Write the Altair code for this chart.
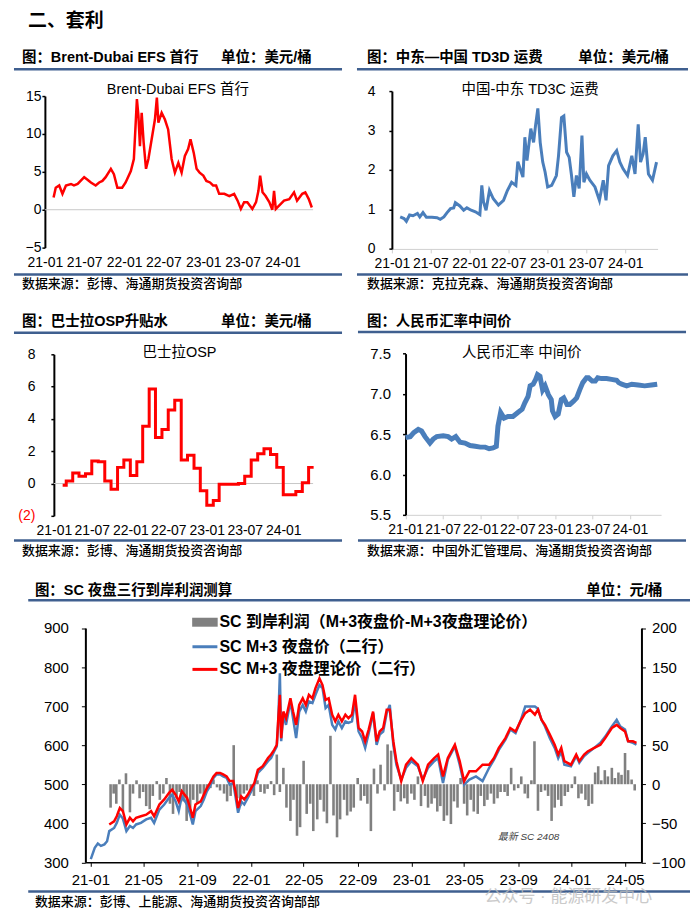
import altair as alt
import pandas as pd

FONT = "Liberation Sans, Noto Sans CJK SC"
NUM_FONT = "Liberation Sans"
RED = "#FF0000"
BLUE = "#4A7EBB"
GRAY = "#808080"
RULE_BLUE = "#3F5F8F"

# ---------------- data ----------------
efs_dates = ["2021-02-10","2021-02-20","2021-03-08","2021-03-23","2021-04-08","2021-05-01","2021-05-15","2021-06-01",
             "2021-07-01","2021-07-15","2021-08-01","2021-08-23","2021-09-08","2021-09-23","2021-10-08","2021-11-01",
             "2021-11-15","2021-12-01","2021-12-23","2022-01-08","2022-02-01","2022-02-15","2022-03-01","2022-03-08",
             "2022-03-15","2022-03-23","2022-04-01","2022-04-12","2022-04-23","2022-05-08","2022-05-23","2022-06-01",
             "2022-06-08","2022-06-23","2022-07-08","2022-07-23","2022-08-08","2022-08-23","2022-09-08","2022-09-23",
             "2022-10-08","2022-10-23","2022-11-03","2022-11-18","2022-12-01","2022-12-15","2023-01-01","2023-01-15",
             "2023-02-01","2023-02-15","2023-03-01","2023-03-15","2023-04-08","2023-05-01","2023-05-23","2023-06-08",
             "2023-06-23","2023-07-08","2023-07-23","2023-08-15","2023-09-01","2023-09-12","2023-09-20","2023-10-01",
             "2023-10-15","2023-11-01","2023-11-15","2023-11-23","2023-12-01","2023-12-15","2024-01-08","2024-02-01",
             "2024-02-23","2024-03-08","2024-04-01","2024-04-15","2024-05-01","2024-05-15"]
efs_values = [1.6,2.9,3.2,2.1,3.2,3.4,3.2,3.4,4.3,4.0,3.6,3.2,3.6,3.8,4.3,5.4,4.7,2.9,2.9,3.6,5.1,6.7,14.6,12.4,
              8.4,12.8,8.9,5.4,6.7,9.3,11.9,14.8,11.5,12.8,11.9,10.6,6.7,4.9,6.2,4.9,7.1,8.0,9.3,7.5,5.4,4.9,4.5,3.8,
              3.6,3.2,3.2,2.1,2.1,1.8,2.1,1.2,0.1,1.0,1.0,0.1,1.0,2.5,4.5,2.3,1.8,1.0,0.0,2.5,0.1,0.5,1.2,1.4,
              2.3,1.2,2.1,2.3,1.4,0.3]

td3c_dates = ["2021-02-09","2021-02-27","2021-03-10","2021-03-25","2021-04-10","2021-05-01","2021-05-12","2021-05-27",
              "2021-06-12","2021-07-08","2021-08-01","2021-08-16","2021-09-02","2021-09-17","2021-10-03","2021-10-18",
              "2021-10-26","2021-11-16","2021-12-04","2021-12-19","2022-01-08","2022-01-28","2022-02-18","2022-02-27",
              "2022-03-07","2022-03-19","2022-04-04","2022-04-22","2022-05-16","2022-06-09","2022-06-27","2022-07-17",
              "2022-08-06","2022-08-15","2022-08-26","2022-09-08","2022-09-17","2022-09-27","2022-10-15","2022-10-28",
              "2022-11-06","2022-11-17","2022-11-28","2022-12-10","2022-12-21","2023-01-02","2023-01-21","2023-02-12",
              "2023-02-22","2023-03-08","2023-03-19","2023-04-01","2023-04-13","2023-04-24","2023-05-05","2023-05-17",
              "2023-05-30","2023-06-12","2023-06-21","2023-07-03","2023-07-19","2023-08-12","2023-09-02","2023-09-20",
              "2023-10-03","2023-10-15","2023-11-04","2023-11-22","2023-12-07","2023-12-22","2024-01-12","2024-02-01",
              "2024-02-16","2024-03-02","2024-03-13","2024-03-25","2024-04-04","2024-04-19","2024-05-08","2024-05-27"]
td3c_values = [0.81,0.77,0.70,0.86,0.84,0.90,0.81,0.92,0.80,0.80,0.79,0.75,0.81,0.92,1.02,1.04,1.17,1.09,0.98,1.04,
               0.98,0.94,0.87,1.61,1.19,0.98,1.48,1.27,1.11,1.23,1.48,1.69,1.61,2.21,2.03,1.82,2.83,2.24,3.05,2.70,
               3.12,3.56,2.70,2.20,1.95,1.57,1.61,1.86,2.36,3.33,3.37,2.45,2.32,1.86,1.32,1.86,1.53,2.87,1.69,1.90,
               1.74,1.57,1.23,1.74,1.23,2.11,2.36,2.49,2.20,2.03,1.86,2.36,1.90,3.16,2.20,2.41,2.83,1.90,1.74,2.20]

osp_dates = ["2021-02-12","2021-03-01","2021-04-01","2021-05-01","2021-06-01","2021-07-01","2021-08-01","2021-09-01",
             "2021-10-01","2021-11-01","2021-12-01","2022-01-01","2022-02-01","2022-03-01","2022-04-01","2022-05-01",
             "2022-06-01","2022-07-01","2022-08-01","2022-09-01","2022-10-01","2022-11-01","2022-12-01","2023-01-01",
             "2023-02-01","2023-03-01","2023-04-01","2023-05-01","2023-06-01","2023-07-01","2023-08-01","2023-09-01",
             "2023-10-01","2023-11-01","2023-12-01","2024-01-01","2024-02-01","2024-03-01","2024-04-01","2024-05-01",
             "2024-05-25"]
osp_values = [-0.1,0.15,0.65,0.45,0.6,1.4,1.35,0.15,-0.35,1.0,1.45,0.5,1.35,3.55,5.85,2.85,3.35,4.55,5.15,1.45,
              1.75,0.95,-0.45,-1.35,-1.05,-0.05,-0.05,-0.05,0.0,0.45,1.45,1.85,2.15,1.8,1.0,-0.7,-0.7,-0.5,0.05,1.0,1.0]

cny_dates = ["2021-01-01","2021-01-24","2021-02-10","2021-03-04","2021-03-20","2021-04-06","2021-04-30","2021-05-16",
             "2021-06-02","2021-07-04","2021-07-28","2021-08-14","2021-09-03","2021-09-24","2021-10-18","2021-11-12",
             "2021-12-07","2022-01-01","2022-01-25","2022-02-13","2022-03-04","2022-03-20","2022-03-28","2022-04-10",
             "2022-04-27","2022-05-16","2022-06-09","2022-07-03","2022-07-24","2022-08-06","2022-08-22","2022-09-01",
             "2022-09-16","2022-09-28","2022-10-07","2022-10-19","2022-11-01","2022-11-13","2022-11-29","2022-12-13",
             "2022-12-19","2023-01-01","2023-01-16","2023-01-31","2023-02-12","2023-02-28","2023-03-14","2023-04-01",
             "2023-04-16","2023-05-01","2023-05-16","2023-06-03","2023-06-13","2023-07-01","2023-07-16","2023-07-28",
             "2023-08-15","2023-09-09","2023-10-03","2023-10-28","2023-11-07","2023-11-22","2023-12-16","2024-01-10",
             "2024-02-10","2024-03-13","2024-04-15","2024-05-13"]
cny_values = [6.46,6.47,6.52,6.56,6.54,6.47,6.39,6.44,6.47,6.48,6.47,6.44,6.47,6.40,6.39,6.36,6.35,6.34,6.34,6.32,
              6.33,6.35,6.60,6.77,6.70,6.72,6.72,6.77,6.81,6.89,6.97,7.10,7.12,7.18,7.24,7.22,7.05,7.10,6.99,6.93,
              6.79,6.72,6.75,6.93,6.95,6.87,6.87,6.91,6.95,7.05,7.14,7.20,7.20,7.16,7.16,7.20,7.19,7.19,7.18,7.17,
              7.14,7.12,7.10,7.12,7.11,7.10,7.11,7.12]

sc_dates = ["2021-01-02","2021-01-11","2021-01-18","2021-01-25","2021-02-02","2021-02-08","2021-02-13","2021-02-24",
            "2021-03-02","2021-03-09","2021-03-16","2021-03-24","2021-04-01","2021-04-08","2021-04-15","2021-04-26",
            "2021-05-08","2021-05-19","2021-05-26","2021-06-07","2021-06-18","2021-06-29","2021-07-06","2021-07-14",
            "2021-07-21","2021-07-28","2021-08-09","2021-08-16","2021-08-22","2021-08-28","2021-09-09","2021-09-16",
            "2021-09-23","2021-09-30","2021-10-08","2021-10-15","2021-10-23","2021-10-30","2021-11-07","2021-11-14",
            "2021-11-22","2021-11-27","2021-12-03","2021-12-10","2021-12-17","2021-12-25","2022-01-02","2022-01-09",
            "2022-01-17","2022-01-28","2022-02-09","2022-02-16","2022-02-23","2022-03-01","2022-03-04","2022-03-08",
            "2022-03-11","2022-03-16","2022-03-22","2022-04-01","2022-04-07","2022-04-14","2022-04-21","2022-04-29",
            "2022-05-06","2022-05-13","2022-05-21","2022-05-28","2022-06-06","2022-06-13","2022-06-20","2022-06-27",
            "2022-07-05","2022-07-12","2022-07-19","2022-07-27","2022-08-04","2022-08-11","2022-08-19","2022-08-26",
            "2022-09-03","2022-09-11","2022-09-18","2022-09-26","2022-10-06","2022-10-14","2022-10-21","2022-10-29",
            "2022-11-06","2022-11-13","2022-11-21","2022-11-28","2022-12-09","2022-12-20","2023-01-01","2023-01-16",
            "2023-01-27","2023-02-08","2023-02-22","2023-03-03","2023-03-14","2023-03-25","2023-04-10","2023-04-21",
            "2023-05-01","2023-05-13","2023-05-28","2023-06-12","2023-06-27","2023-07-08","2023-07-19","2023-08-03",
            "2023-08-14","2023-08-26","2023-09-06","2023-09-17","2023-09-28","2023-10-09","2023-10-16","2023-10-24",
            "2023-11-01","2023-11-12","2023-11-23","2023-12-01","2023-12-08","2023-12-15","2023-12-30","2024-01-11",
            "2024-01-18","2024-01-29","2024-02-06","2024-02-21","2024-03-06","2024-03-17","2024-04-01","2024-04-12",
            "2024-04-20","2024-05-01","2024-05-08","2024-05-19","2024-05-27"]
sc_night = [308,337,348,342,346,354,380,388,401,422,412,380,393,388,397,401,410,414,401,435,448,465,473,456,
            431,469,448,422,397,431,444,461,482,495,516,525,525,520,516,499,503,469,427,456,448,465,482,499,
            529,542,559,567,584,597,652,784,610,678,652,712,669,618,686,703,686,712,708,729,754,746,695,703,
            652,640,661,644,661,657,661,712,635,618,593,630,682,601,627,635,682,703,601,550,512,542,559,546,
            512,542,559,567,503,563,597,550,499,512,520,508,542,563,588,614,640,631,661,699,699,699,693,665,
            648,618,593,567,584,550,546,572,555,572,580,593,606,622,648,665,648,640,610,606,601]
sc_theory = [None,None,None,None,None,None,397,405,418,439,431,397,414,405,414,418,422,431,418,448,461,478,486,473,
             456,482,465,439,414,448,456,473,490,503,520,529,529,525,520,508,508,482,439,469,461,473,490,503,
             537,546,567,576,588,601,661,729,618,686,669,720,686,652,703,720,703,729,720,746,771,754,716,720,
             678,661,678,661,678,669,678,729,644,635,610,640,686,610,635,644,691,691,610,559,508,550,567,550,
             508,550,567,576,520,567,601,559,508,533,533,550,550,567,593,618,644,635,661,682,691,678,691,665,
             652,627,601,576,593,559,550,576,559,576,584,593,601,618,644,652,644,635,610,610,606]

profit_months = ["2021-02","2021-03","2021-04","2021-05","2021-06","2021-07","2021-08","2021-09","2021-10","2021-11",
                 "2021-12","2022-01","2022-02","2022-03","2022-04","2022-05","2022-06","2022-07","2022-08","2022-09",
                 "2022-10","2022-11","2022-12","2023-01","2023-02","2023-03","2023-04","2023-05","2023-06","2023-07",
                 "2023-08","2023-09","2023-10","2023-11","2023-12","2024-01","2024-02","2024-03","2024-04","2024-05"]
profit_days = ["01", "08", "16", "23"]
profit_values = [None,None,-30,-12, -25,6,-35,14, -36,-12,5,-18, -10,-28,-32,-15, 4,-20,-12,8,
                 -25,-38,-18,-10, -22,-47,-30,-20, -25,-12,-18,-8, -5,6,-4,-8, -12,-22,-15,50,
                 -18,-28,-12,-8, -8,-15,5,-10, -12,-6,4,-14, 38,-10,21,-30, -47,-20,-66,-55,
                 30,-38,-25,-60, -45,-20,-35,-50, 62,-40,-68,-45, -20,-40,-35,-30, 8,-21,-15,-25,
                 -60,20,-12,25, -8,51,43,-34, -10,-22,-18,-25, -12,-20,10,-28, -15,-30,-25,-18,
                 -35,-28,-47,-40, -51,-22,-30,8, -25,-40,-20,-35, -38,-15,-28,-20, -12,-25,-18,-10,
                 -10,-15,21,-8, -5,10,-12,-18, 5,55,-34,-10, -8,-15,-47,-30, -20,-28,-15,-10,
                 -5,10,-18,-12, -20,-28,-25,15, 23,5,18,10, 21,8,15,12, 40,18,6,-8]

small_ticks = [(2021, 1), (2021, 7), (2022, 1), (2022, 7), (2023, 1), (2023, 7), (2024, 1)]
sc_ticks = [(2021, 1), (2021, 5), (2021, 9), (2022, 1), (2022, 5), (2022, 9), (2023, 1), (2023, 5),
            (2023, 9), (2024, 1), (2024, 5)]


# ---------------- helpers ----------------
def dt(y, m, d=1):
    return alt.DateTime(year=y, month=m, date=d)


ONE = pd.DataFrame({"k": [0]})


def txt(x, y, s, size=13, weight="normal", align="left", color="black", style="normal", opacity=1.0):
    return alt.Chart(ONE).mark_text(text=s, fontSize=size, fontWeight=weight, align=align, baseline="middle",
                                    color=color, font=FONT, fontStyle=style, opacity=opacity).encode(
        x=alt.value(x), y=alt.value(y))


def hrule(x1, x2, y, color=RULE_BLUE, width=2.5):
    return alt.Chart(ONE).mark_rule(color=color, strokeWidth=width).encode(
        x=alt.value(x1), x2=alt.value(x2), y=alt.value(y))


def small_x(rng, offset, domain_line, pad):
    kw = dict(values=[dt(y, m) for y, m in small_ticks], format="%y-%m", title=None, grid=False,
              labelFont=NUM_FONT, labelFontSize=14, labelColor="black", labelFlush=False,
              labelOverlap=False, offset=offset, labelPadding=pad)
    if domain_line:
        kw.update(domain=True, domainColor="#D0D0D0", domainWidth=1, ticks=True, tickColor="#D0D0D0",
                  tickSize=4)
    else:
        kw.update(domain=False, ticks=False)
    return alt.X("date:T", scale=alt.Scale(domain=[dt(2021, 1), dt(2024, 6)], range=rng), axis=alt.Axis(**kw))


def small_y(field, dom, rng, vals, offset, pad, **extra):
    ax = dict(values=vals, title=None, grid=False, offset=offset, domainColor="black", domainWidth=2,
              tickColor="black", tickSize=3, tickWidth=1.5, labelPadding=pad, labelFont=NUM_FONT,
              labelFontSize=14, labelColor="black")
    ax.update(extra)
    return alt.Y(field, scale=alt.Scale(domain=dom, range=rng), axis=alt.Axis(**ax))


HDR = 14.5
SRC = 13

# ---------------- row 0: section title ----------------
row0 = txt(20, 11.5, "二、套利", 19, "bold").properties(width=684, height=32)

# ---------------- panel 1: Brent-Dubai EFS ----------------
efs_df = pd.DataFrame({"date": efs_dates, "v": efs_values})
x1 = small_x([37, 308.4], -53, False, 8)
y1 = small_y("v:Q", [-5, 15], [207, 55], [-5, 0, 5, 10, 15], -37, 1)
p1 = alt.layer(
    alt.Chart(pd.DataFrame({"v": [0]})).mark_rule(color="#C8C8C8", strokeWidth=1).encode(
        y=y1, x=alt.value(37), x2=alt.value(306)),
    alt.Chart(efs_df).mark_line(color=RED, strokeWidth=2.5).encode(x=x1, y=y1),
    txt(14, 17, "图：Brent-Dubai EFS 首行", HDR, "bold"),
    txt(213.7, 17, "单位：美元/桶", HDR, "bold"),
    hrule(6, 335, 28),
    txt(170.3, 49.3, "Brent-Dubai EFS 首行", HDR, "normal", "center"),
    hrule(6, 335, 234),
    txt(14, 243, "数据来源：彭博、海通期货投资咨询部", SRC, 500),
).properties(width=342, height=260)

# ---------------- panel 2: TD3C ----------------
td_df = pd.DataFrame({"date": td3c_dates, "v": td3c_values})
x2 = small_x([43, 309.5], -51.7, True, 3.5)
y2 = small_y("v:Q", [0, 4], [208.3, 50], [0, 1, 2, 3, 4], -43, 14)
p2 = alt.layer(
    alt.Chart(td_df).mark_line(color=BLUE, strokeWidth=3).encode(x=x2, y=y2),
    txt(18, 17, "图：中东—中国 TD3D 运费", HDR, "bold"),
    txt(230, 17, "单位：美元/桶", HDR, "bold"),
    hrule(8, 340, 28),
    txt(181.7, 49.3, "中国-中东 TD3C 运费", HDR, "normal", "center"),
    hrule(8, 340, 234),
    txt(18, 243, "数据来源：克拉克森、海通期货投资咨询部", SRC, 500),
).properties(width=342, height=260)

# ---------------- panel 3: Basrah OSP ----------------
osp_df = pd.DataFrame({"date": osp_dates, "v": osp_values})
x3 = small_x([46, 308], -49, False, 7.5)
y3 = small_y("v:Q", [-2, 8], [216, 54], [-2, 0, 2, 4, 6, 8], -46, 16,
             labelExpr="datum.value < 0 ? '(' + (-datum.value) + ')' : datum.label",
             labelColor={"condition": {"test": "datum.value < 0", "value": "#FF0000"}, "value": "black"})
p3 = alt.layer(
    alt.Chart(pd.DataFrame({"v": [0]})).mark_rule(color="#C8C8C8", strokeWidth=1).encode(
        y=y3, x=alt.value(46), x2=alt.value(306)),
    alt.Chart(osp_df).mark_line(color=RED, strokeWidth=3, interpolate="step-after").encode(x=x3, y=y3),
    txt(14, 22, "图：巴士拉OSP升贴水", HDR, "bold"),
    txt(213.7, 22, "单位：美元/桶", HDR, "bold"),
    hrule(6, 335, 32.3),
    txt(172, 52.3, "巴士拉OSP", HDR, "normal", "center"),
    hrule(6, 335, 240.7),
    txt(14, 251.7, "数据来源：彭博、海通期货投资咨询部", SRC, 500),
).properties(width=342, height=265)

# ---------------- panel 4: CNY fixing ----------------
cny_df = pd.DataFrame({"date": cny_dates, "v": cny_values})
x4 = small_x([56.7, 313], -50, True, 4)
y4 = small_y("v:Q", [5.5, 7.5], [215, 53.3], [5.5, 6.0, 6.5, 7.0, 7.5], -56.7, 12, format=".1f",
             labelFontSize=15)
p4 = alt.layer(
    alt.Chart(cny_df).mark_line(color=BLUE, strokeWidth=5).encode(x=x4, y=y4),
    txt(18, 22, "图：人民币汇率中间价", HDR, "bold"),
    hrule(9, 338, 31.7),
    txt(173.3, 52.3, "人民币汇率 中间价", HDR, "normal", "center"),
    hrule(9, 338, 240.7),
    txt(18, 251.7, "数据来源：中国外汇管理局、海通期货投资咨询部", SRC, 500),
).properties(width=342, height=265)

# ---------------- panel 5: SC arbitrage ----------------
sc_df = pd.DataFrame({"date": sc_dates, "night": sc_night, "theory": sc_theory})
profit_dates = [f"{m}-{d}" for m in profit_months for d in profit_days]
profit_df = pd.DataFrame({"date": profit_dates, "p": profit_values})

x5 = alt.X("date:T", scale=alt.Scale(domain=[dt(2021, 1), dt(2024, 5, 27)], range=[77.6, 635.3]),
           axis=alt.Axis(values=[dt(y, m) for y, m in sc_ticks], format="%y-%m", title=None, grid=False,
                         offset=-47.5, domainColor="black", domainWidth=1.5, tickColor="black", tickSize=4,
                         labelPadding=6.5, labelFont=NUM_FONT, labelFontSize=15, labelColor="black",
                         labelFlush=False, labelOverlap=False))
left_axis = alt.Axis(values=[300, 400, 500, 600, 700, 800, 900], title=None, grid=False, offset=-77.6,
                     domainColor="black", domainWidth=2, tickColor="black", tickSize=4, labelPadding=13,
                     labelFont=NUM_FONT, labelFontSize=15, labelColor="black")
left_scale = alt.Scale(domain=[300, 900], range=[298.5, 63.5])
y_night = alt.Y("night:Q", scale=left_scale, axis=left_axis)
y_theory = alt.Y("theory:Q", scale=left_scale, axis=left_axis)
y_profit = alt.Y("p:Q", scale=alt.Scale(domain=[-100, 200], range=[298.5, 63.5]),
                 axis=alt.Axis(orient="right", values=[-100, -50, 0, 50, 100, 150, 200], title=None, grid=False,
                               offset=-48.7, domainColor="black", domainWidth=2, tickColor="black", tickSize=4,
                               labelPadding=6, labelFont=NUM_FONT, labelFontSize=15, labelColor="black"))

bars = alt.Chart(profit_df).mark_bar(color=GRAY, size=2.6).encode(x=x5, y=y_profit, y2=alt.datum(0))
lines = alt.layer(
    alt.Chart(sc_df).mark_line(color=BLUE, strokeWidth=2.5).encode(x=x5, y=y_night),
    alt.Chart(sc_df).mark_line(color=RED, strokeWidth=2.5).encode(x=x5, y=y_theory),
)
p5 = alt.layer(
    bars, lines,
    txt(27, 26.7, "图：SC 夜盘三行到岸利润测算", HDR, "bold"),
    txt(580, 26.7, "单位：元/桶", HDR, "bold"),
    hrule(20.3, 684, 35.7),
    alt.Chart(ONE).mark_rect(color=GRAY).encode(x=alt.value(184.7), x2=alt.value(210.3),
                                                 y=alt.value(53.2), y2=alt.value(62.2)),
    hrule(185, 210, 82.3, BLUE, 3),
    hrule(185, 210, 105, RED, 3),
    txt(212, 57.7, "SC 到岸利润（M+3夜盘价-M+3夜盘理论价）", 16, "bold"),
    txt(212, 82.3, "SC M+3 夜盘价（二行）", 16, "bold"),
    txt(212, 105, "SC M+3 夜盘理论价（二行）", 16, "bold"),
    txt(522, 273, "最新 SC 2408", 10, "normal", "center", "#404040", "italic"),
    hrule(20.3, 684, 327.7),
    txt(27, 338.3, "数据来源：彭博、上能源、海通期货投资咨询部部", SRC, 500),
    txt(478, 333, "公众号 · 能源研发中心", 17, "normal", "left", "#BDBDBD", "normal", 0.8),
).resolve_scale(y="independent").properties(width=684, height=346)

chart = alt.vconcat(
    row0,
    alt.hconcat(p1, p2, spacing=0),
    alt.hconcat(p3, p4, spacing=0),
    p5,
    spacing=0,
).properties(padding=0).configure_view(stroke=None).configure_concat(spacing=0)

chart.save("out.html", embed_options={"renderer": "svg", "actions": False})
